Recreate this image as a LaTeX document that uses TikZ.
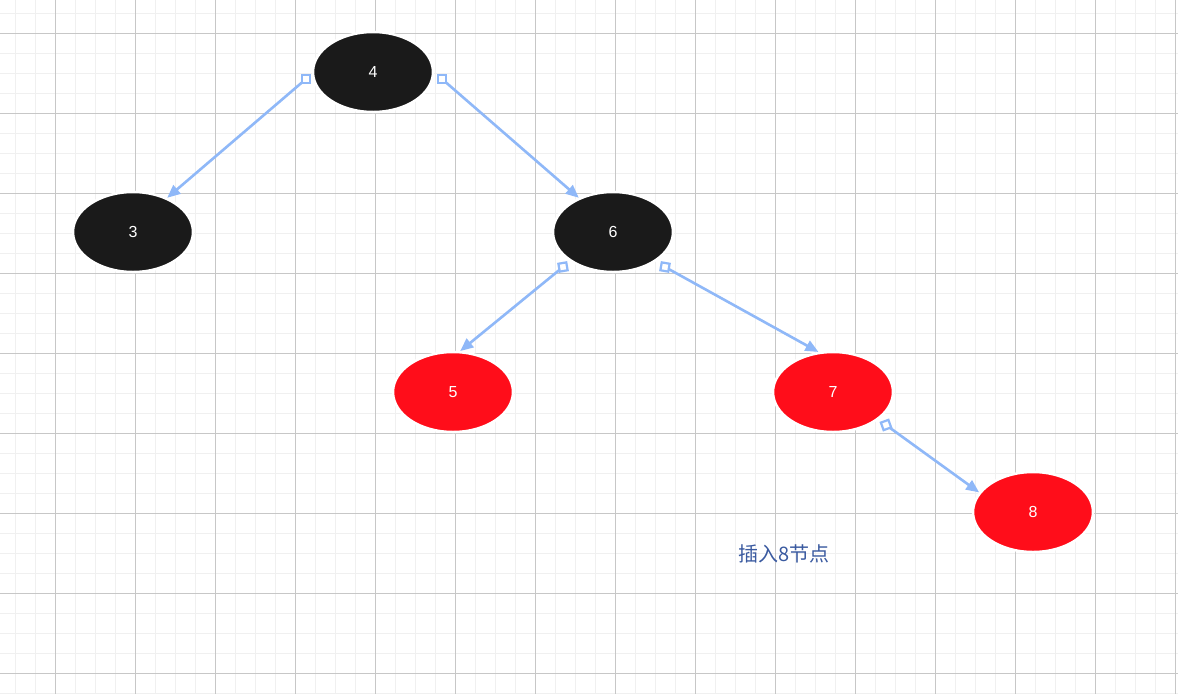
\documentclass[tikz,border=0pt]{standalone}
\usepackage{fontspec}
\setmainfont{Liberation Sans}
\newfontfamily\cjk{Noto Sans CJK SC}
\usetikzlibrary{arrows.meta,shapes.geometric}
\definecolor{edgeblue}{HTML}{8FB8F8}
\definecolor{nodeblack}{HTML}{1A1A1A}
\definecolor{nodered}{HTML}{FF0D1A}
\definecolor{labelblue}{HTML}{3A5AA0}
\begin{document}
\begin{tikzpicture}[x=1pt,y=-1pt,
  bnode/.style={ellipse,draw=white,line width=2.5pt,fill=nodeblack,minimum width=120pt,minimum height=80pt,text=white,font=\fontsize{16}{18}\selectfont,inner sep=0pt},
  rnode/.style={bnode,fill=nodered},
  edgeline/.style={draw=edgeblue,line width=2.6pt,-{Triangle[length=13pt,width=11pt]}},
  sq/.style={draw=edgeblue,line width=2.2pt,fill=white,minimum size=8pt,inner sep=0pt,rotate=#1},
  sq/.default=0]
\useasboundingbox (0,0) rectangle (1178,694);
\fill[white] (0,0) rectangle (1178,694);
\foreach \x in {15,35,...,1175} \draw[black!6,line width=1pt] (\x,0) -- (\x,694);
\foreach \y in {13,33,...,693} \draw[black!6,line width=1pt] (0,\y) -- (1178,\y);
\foreach \x in {55,135,...,1175} \draw[black!22,line width=1pt] (\x,0) -- (\x,694);
\foreach \y in {33,113,...,693} \draw[black!22,line width=1pt] (0,\y) -- (1178,\y);
\node[bnode] (n4) at (373,72) {4};
\node[bnode] (n3) at (133,232) {3};
\node[bnode] (n6) at (613,232) {6};
\node[rnode] (n5) at (453,392) {5};
\node[rnode] (n7) at (833,392) {7};
\node[rnode] (n8) at (1033,512) {8};
\coordinate (s43) at (306,79);
\coordinate (s46) at (442,79);
\coordinate (s65) at (563,267);
\coordinate (s67) at (665,267);
\coordinate (s78) at (886,425);
\draw[edgeline] (s43) -- (n3.45);
\draw[edgeline] (s46) -- (n6.135);
\draw[edgeline] (s65) -- (n5.80);
\draw[edgeline] (s67) -- (n7.110);
\draw[edgeline] (s78) -- (n8.160);
\node[sq] (q1) at (s43) {};
\node[sq] (q2) at (s46) {};
\node[sq=10] (q3) at (s65) {};
\node[sq=-10] (q4) at (s67) {};
\node[sq=20] (q5) at (s78) {};
\node[text=labelblue,font=\cjk\fontsize{20}{24}\selectfont] (lbl) at (784,554) {插入8节点};
\end{tikzpicture}
\end{document}
